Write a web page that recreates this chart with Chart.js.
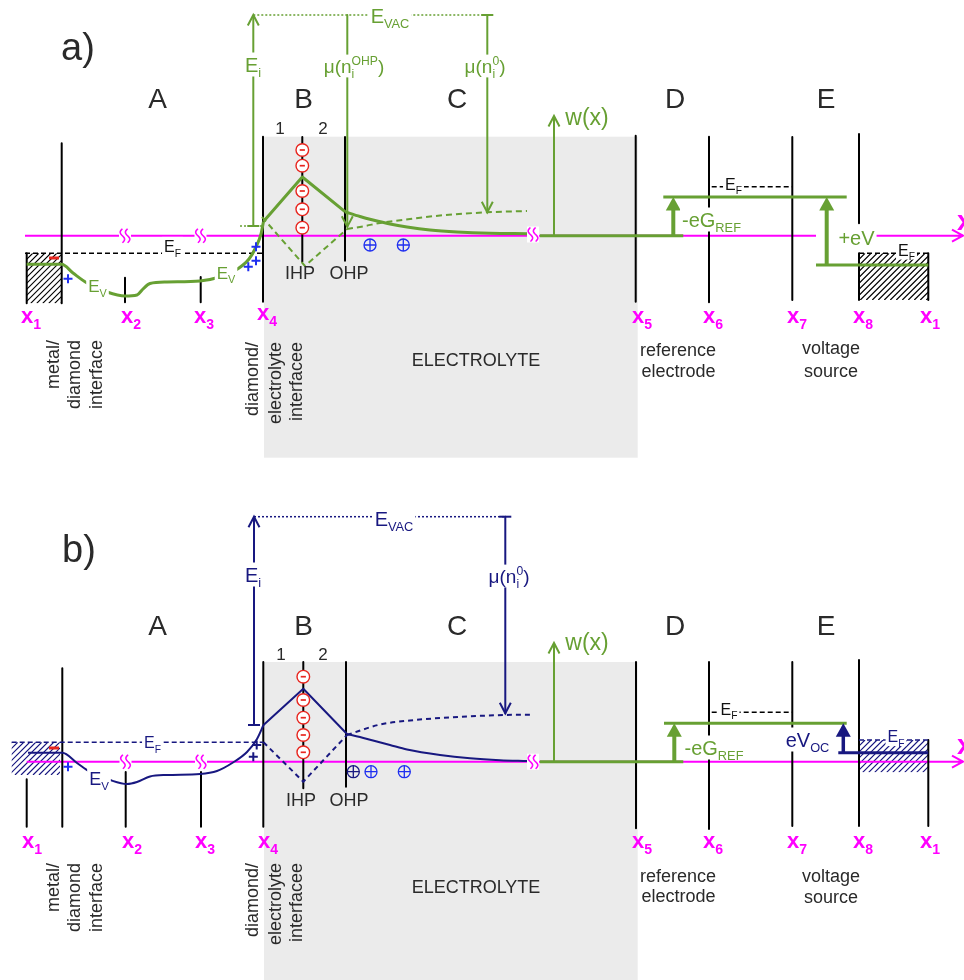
<!DOCTYPE html>
<html>
<head>
<meta charset="utf-8">
<title>Band diagram</title>
<script src="https://cdn.jsdelivr.net/npm/chart.js@4.4.1/dist/chart.umd.min.js"></script>
<style>
html,body{margin:0;padding:0;background:#ffffff;}
#wrap{width:964px;height:980px;}
canvas{display:block;}
</style>
</head>
<body>
<div id="wrap"><canvas id="chart" width="964" height="980"></canvas></div>
<script>
const GREEN='#67a033', NAVY='#181880', MAG='#ff00ff', DARK='#2a2a2a', RED='#e8261f', BLUE='#1f2ff0', GRAY='#ebebeb', BLACK='#000000';
const FONT="'Liberation Sans', Arial, Helvetica, sans-serif";

// ================= PANEL a data =================
const axisA1=[[25,235.7],[816,235.7]];
const axisA2=[[875,235.7],[960,235.7]];
const wallsA=[[26.7,253.3,303.3],[61.7,143.3,303.3],[125,277.7,302.3],[200.7,277,302.3],[263,136.7,301.7],[302.3,137,261.7],[345,137,260.7],[635.7,135.7,301.7],[709,136.7,302.3],[792.3,137,300],[859,134,223.3],[859,253.3,300],[928.3,253.3,300]];
const valenceA=[[26.7,264.3],[61.7,264.3],[73,273],[87,283],[107,292],[125,296],[137,295],[143,289],[150,283.5],[167,282],[200,281],[218,277.5],[236,270],[249,259],[256,247],[261,234],[263.5,221.5]];
const dlSolidA=[[263.5,221.5],[302.3,177],[345,211.7]];
const diffuseSolidA=[[345,211.7],[360,216.5],[373,220],[390,224],[407,227],[430,230],[457,232],[490,233.3],[527,233.7]];
const dlDashA=[[262,217],[305,266],[347,229]];
const diffuseDashA=[[347,229],[365,226],[380,223],[410,219],[440,215.5],[487,212.3],[527,211]];
const fermiA=[[25,253.3],[263,253.3]];
const fermiRefA=[[711.7,186.7],[792,186.7]];
const fermiMetalA=[[859,253.3],[928.3,253.3]];
const vacA=[[253.3,15],[487.3,15]];
const eiFootA=[[240,226],[264,226]];
const wBaseA=[[540,235.7],[683.3,235.7]];
const refLevelA=[[663.3,197],[846.7,197]];
const metalLevelA=[[816,265],[928.3,265]];
const electrolyteA=[264,637.7,136.7,457.7];
const hatchA=[[26.7,61.7,253.3,303.3,BLACK],[859,928.3,253.3,300,BLACK]];
// arrows: x, from, tip, kind
const arrowsA=[[253.3,226,15,'gOpen'],[347.3,15,226.7,'gOpen'],[487.3,15,212.3,'gOpen'],[554,235.7,116,'gOpen'],[673.3,235.7,197,'gFill'],[826.7,265,197,'gFill']];
const capsA=[[253.3,226,GREEN],[487.3,15,GREEN]];
const breaksA=[[125,235.7],[200.5,235.7],[533,234.5]];
const ionMinusA=[[302.3,150],[302.3,165.7],[302.3,191],[302.3,209.3],[302.3,227.7]];
const ionPlusA=[[370,245,BLUE],[403.3,245,BLUE]];
const plusA=[[68,278.7,BLUE],[256,246.7,BLUE],[256,260.7,BLUE],[248.3,266.7,BLUE]];
const minusA=[[54,258]];
const labelsA=[
 ['a)',78,46,'panel'],
 ['A',157.5,98,'region'],['B',303.5,98,'region'],['C',457,98,'region'],['D',675,98,'region'],['E',826,98,'region'],
 ['1',280,128,'num'],['2',323,128,'num'],
 ['E_{i}',253,64.5,'gLbl'],['E_{VAC}',390,15.5,'gLbl'],['μ(n_{i}^{OHP})',354,66,'gMu'],['μ(n_{i}^{0})',485,66,'gMu'],
 ['w(x)',587,116.7,'wx'],
 ['E_{F}',172.5,246.5,'kEF'],['E_{V}',97.5,286,'gEV'],['E_{V}',226,272.5,'gEV'],
 ['IHP',300,273,'plane'],['OHP',349,273,'plane'],
 ['-eG_{REF}',711.5,219.5,'gLbl'],['+eV',856.5,237.5,'gLbl'],
 ['E_{F}',733.5,184,'kEF'],['E_{F}',906.5,250,'kEF'],
 ['ELECTROLYTE',476,360,'body'],['reference',678,349.5,'body'],['electrode',678.5,370.5,'body'],['voltage',831,348,'body'],['source',831,370.5,'body'],
 ['x',957,219.5,'xEdge']
];
const xTicksA=[['x_{1}',21,315],['x_{2}',121,315],['x_{3}',194,315],['x_{4}',257,312],['x_{5}',632,315],['x_{6}',703,315],['x_{7}',787,315],['x_{8}',853,315],['x_{1}',920,315]];
const rotLabelsA=[['metal/',54,340],['diamond',75,340],['interface',97,340],['diamond/',253,342],['electrolyte',276,342],['interfacee',297,342]];

// ================= PANEL b data =================
const axisB=[[26.7,761.7],[960,761.7]];
const wallsB=[[26.7,779.3,826.7],[62.3,668.3,826.7],[125.7,772,826.7],[201,772,826.7],[263.3,662,826.7],[303.3,662,788.3],[346,662,786.7],[636,662,828.3],[709,662,829],[792.3,662,826],[859,660,826],[928.3,740,826]];
const valenceB=[[28,752.7],[62.3,752.7],[77,763],[90,772],[110,780],[127,784],[137,782],[150,776.5],[167,775],[200,774],[217,771],[233,762.5],[247,752],[257,739],[263.5,725]];
const dlSolidB=[[263.5,725],[303.3,688.7],[347,734]];
const diffuseSolidB=[[347,734],[360,737],[373,740.5],[390,745],[407,749.5],[440,755],[470,758.3],[500,760.2],[527,761]];
const dlDashB=[[263.5,742.3],[303.3,781.7],[347,735]];
const diffuseDashB=[[347,735],[380,724.5],[410,720.5],[440,718],[470,716.3],[505,715],[530,714.7]];
const fermiB=[[11.7,742.3],[263.5,742.3]];
const fermiRefB=[[711.7,712.3],[792,712.3]];
const fermiMetalB=[[859,740],[928.3,740]];
const vacB=[[254,516.7],[505.3,516.7]];
const wBaseB=[[540,761.7],[683.3,761.7]];
const refLevelB=[[664,723.3],[846.7,723.3]];
const metalLevelB=[[838.3,752.7],[928.3,752.7]];
const electrolyteB=[264,637.7,662,980];
const hatchB=[[11.7,60,742.3,775,NAVY],[859,928.3,740,772.3,NAVY]];
const arrowsB=[[254,725,516.7,'nOpen'],[505.3,516.7,713.3,'nOpen'],[554,761.7,643,'gOpen'],[674.3,761.7,723.3,'gFill'],[843.3,752.7,723.3,'nFill']];
const capsB=[[254,725,NAVY],[505.3,516.7,NAVY]];
const breaksB=[[125.5,761.7],[201,761.7],[533,761.7]];
const ionMinusB=[[303.3,676.7],[303.3,700],[303.3,717.7],[303.3,735],[303.3,752.3]];
const ionPlusB=[[353.3,771.7,NAVY],[371,771.7,BLUE],[404.3,771.7,BLUE]];
const plusB=[[68,766.7,BLUE],[256.7,745,NAVY],[253.3,756.7,NAVY]];
const minusB=[[54,748]];
const labelsB=[
 ['b)',79,548,'panel'],
 ['A',157.5,625,'region'],['B',303.5,625,'region'],['C',457,625,'region'],['D',675,625,'region'],['E',826,625,'region'],
 ['1',281,654,'num'],['2',323,654,'num'],
 ['E_{i}',253,574.5,'nLbl'],['E_{VAC}',394,518.5,'nLbl'],['μ(n_{i}^{0})',509,576,'nMu'],
 ['w(x)',587,641.7,'wx'],
 ['E_{F}',152.5,742.5,'nEF'],['E_{V}',99,778.5,'nEV'],
 ['IHP',301,800,'plane'],['OHP',349,800,'plane'],
 ['-eG_{REF}',714,747.5,'gLbl'],['eV_{OC}',807.5,739.5,'nLbl'],
 ['E_{F}',729,709,'kEF'],['E_{F}',896,736.5,'nEF'],
 ['ELECTROLYTE',476,886.5,'body'],['reference',678,875.5,'body'],['electrode',678.5,895.5,'body'],['voltage',831,875.5,'body'],['source',831,896.5,'body'],
 ['x',957,744,'xEdge']
];
const xTicksB=[['x_{1}',22,840],['x_{2}',122,840],['x_{3}',195,840],['x_{4}',258,840],['x_{5}',632,840],['x_{6}',703,840],['x_{7}',787,840],['x_{8}',853,840],['x_{1}',920,840]];
const rotLabelsB=[['metal/',54,863],['diamond',75,863],['interface',97,863],['diamond/',253,863],['electrolyte',276,863],['interfacee',297,863]];

// ================= styles =================
const LS={
 axis:{borderColor:MAG,borderWidth:2},
 wall:{borderColor:BLACK,borderWidth:2},
 kDash:{borderColor:BLACK,borderWidth:1.5,borderDash:[5,3]},
 nDashThin:{borderColor:NAVY,borderWidth:1.5,borderDash:[5,3]},
 gDot:{borderColor:GREEN,borderWidth:1.5,borderDash:[2,2]},
 nDot:{borderColor:NAVY,borderWidth:1.5,borderDash:[2,2]},
 gCurve:{borderColor:GREEN,borderWidth:3,cubicInterpolationMode:'monotone'},
 gLine:{borderColor:GREEN,borderWidth:3},
 gDash:{borderColor:GREEN,borderWidth:2,borderDash:[6,4]},
 gDashCurve:{borderColor:GREEN,borderWidth:2,borderDash:[6,4],cubicInterpolationMode:'monotone'},
 nCurve:{borderColor:NAVY,borderWidth:2,cubicInterpolationMode:'monotone'},
 nLine:{borderColor:NAVY,borderWidth:2},
 nLevel:{borderColor:NAVY,borderWidth:3},
 nDash:{borderColor:NAVY,borderWidth:2,borderDash:[5,4]},
 nDashCurve:{borderColor:NAVY,borderWidth:2,borderDash:[5,4],cubicInterpolationMode:'monotone'}
};
const AK={
 gOpen:{color:GREEN,width:2,fill:false},
 nOpen:{color:NAVY,width:2,fill:false},
 gFill:{color:GREEN,width:4,fill:true},
 nFill:{color:NAVY,width:3.5,fill:true}
};
const TS={
 panel:{size:38,color:DARK},
 region:{size:28,color:DARK},
 num:{size:17,color:DARK},
 plane:{size:18,color:DARK},
 body:{size:18,color:DARK},
 gLbl:{size:20,color:GREEN,bg:'#ffffff'},
 gMu:{size:19,color:GREEN,bg:'#ffffff'},
 gEV:{size:17,color:GREEN,bg:'#ffffff'},
 wx:{size:23,color:GREEN},
 kEF:{size:16,color:'#111111',bg:'#ffffff'},
 nLbl:{size:20,color:NAVY,bg:'#ffffff'},
 nMu:{size:19,color:NAVY,bg:'#ffffff'},
 nEV:{size:18,color:NAVY,bg:'#ffffff'},
 nEF:{size:16,color:NAVY,bg:'#ffffff'},
 xTick:{size:22,color:MAG,bold:true,align:'left'},
 xEdge:{size:28,color:MAG,bold:true,align:'left'},
 rot:{size:18,color:DARK}
};

// ================= datasets =================
const datasets=[];
function addLine(points,style){
  datasets.push(Object.assign({data:points.map(p=>({x:p[0],y:p[1]})),showLine:true,pointRadius:0,pointHoverRadius:0,fill:false,tension:0,borderCapStyle:'butt',borderJoinStyle:'round'},style));
}
addLine(axisA1,LS.axis); addLine(axisA2,LS.axis); addLine(axisB,LS.axis);
wallsA.concat(wallsB).forEach(w=>addLine([[w[0],w[1]],[w[0],w[2]]],LS.wall));
addLine(fermiA,LS.kDash); addLine(fermiRefA,LS.kDash); addLine(fermiMetalA,LS.kDash);
addLine(fermiB,LS.nDashThin); addLine(fermiRefB,LS.kDash); addLine(fermiMetalB,LS.nDashThin);
addLine(vacA,LS.gDot); addLine(eiFootA,LS.gDot); addLine(vacB,LS.nDot);
addLine(dlDashA,LS.gDash); addLine(diffuseDashA,LS.gDashCurve);
addLine(dlDashB,LS.nDash); addLine(diffuseDashB,LS.nDashCurve);
addLine(valenceA,LS.gCurve); addLine(dlSolidA,LS.gLine); addLine(diffuseSolidA,LS.gCurve);
addLine(valenceB,LS.nCurve); addLine(dlSolidB,LS.nLine); addLine(diffuseSolidB,LS.nCurve);
addLine(wBaseA,LS.gLine); addLine(refLevelA,LS.gLine); addLine(metalLevelA,LS.gLine);
addLine(wBaseB,LS.gLine); addLine(refLevelB,LS.gLine); addLine(metalLevelB,LS.nLevel);
arrowsA.concat(arrowsB).forEach(a=>{
  const k=AK[a[3]]; const dir=Math.sign(a[1]-a[2]);
  const end=k.fill? a[2]+dir*12 : a[2];
  addLine([[a[0],a[1]],[a[0],end]],{borderColor:k.color,borderWidth:k.width});
});
// first pushed = drawn first (bottom)
datasets.forEach((d,i)=>{d.order=datasets.length-i;});

// ================= drawing helpers =================
function parseRich(s){
  const segs=[]; let buf=''; let i=0;
  while(i<s.length){
    const ch=s[i];
    if((ch==='_'||ch==='^')&&s[i+1]==='{'){
      if(buf){segs.push({n:buf});buf='';}
      const j=s.indexOf('}',i); const t=s.slice(i+2,j);
      const last=segs[segs.length-1];
      if(ch==='^'&&last&&last.sub!==undefined&&last.sup===undefined) last.sup=t;
      else if(ch==='_') segs.push({sub:t}); else segs.push({sup:t});
      i=j+1;
    } else {buf+=ch;i++;}
  }
  if(buf) segs.push({n:buf});
  return segs;
}
function drawRich(ctx,str,cx,cy,st){
  const size=st.size, small=size*0.64, w8=st.bold?'bold ':'';
  const f=sz=>w8+sz+'px '+FONT;
  const segs=parseRich(str); const ws=[]; let tot=0;
  segs.forEach(g=>{ let w;
    if(g.n!==undefined){ctx.font=f(size); w=ctx.measureText(g.n).width;}
    else{ctx.font=f(small); w=Math.max(g.sub!==undefined?ctx.measureText(g.sub).width:0,g.sup!==undefined?ctx.measureText(g.sup).width:0);}
    ws.push(w); tot+=w; });
  const align=st.align||'center';
  let x=align==='left'?cx:align==='right'?cx-tot:cx-tot/2;
  const base=cy+size*0.36;
  if(st.bg){ctx.fillStyle=st.bg; ctx.fillRect(x-2,cy-size*0.6,tot+4,size*1.2);}
  ctx.fillStyle=st.color; ctx.textAlign='left'; ctx.textBaseline='alphabetic';
  segs.forEach((g,k)=>{
    if(g.n!==undefined){ctx.font=f(size); ctx.fillText(g.n,x,base);}
    else{ctx.font=f(small); if(g.sub!==undefined) ctx.fillText(g.sub,x,base+size*0.28); if(g.sup!==undefined) ctx.fillText(g.sup,x,base-size*0.42);}
    x+=ws[k];
  });
}
function hatch(ctx,x0,x1,y0,y1,color){
  ctx.save(); ctx.beginPath(); ctx.rect(x0,y0,x1-x0,y1-y0); ctx.clip();
  ctx.strokeStyle=color; ctx.lineWidth=1.2; ctx.beginPath();
  const h=y1-y0;
  for(let s=x0-h; s<x1+h; s+=6){ctx.moveTo(s,y1); ctx.lineTo(s+h,y0);}
  ctx.stroke(); ctx.restore();
}
function brk(ctx,cx,cy){
  ctx.fillStyle='#ffffff'; ctx.fillRect(cx-6,cy-8,12,16);
  ctx.strokeStyle=MAG; ctx.lineWidth=1.6;
  [-2.6,2.6].forEach(dx=>{ctx.beginPath();
    for(let t=-7;t<=7.01;t+=0.5){const px=cx+dx+2.2*Math.sin(Math.PI*t/7), py=cy+t; if(t===-7) ctx.moveTo(px,py); else ctx.lineTo(px,py);}
    ctx.stroke();});
}

const decor={
  id:'decor',
  beforeDatasetsDraw(chart){
    const c=chart.ctx, X=v=>chart.scales.x.getPixelForValue(v), Y=v=>chart.scales.y.getPixelForValue(v);
    c.save();
    [electrolyteA,electrolyteB].forEach(r=>{c.fillStyle=GRAY; c.fillRect(X(r[0]),Y(r[2]),X(r[1])-X(r[0]),Y(r[3])-Y(r[2]));});
    hatchA.concat(hatchB).forEach(h=>hatch(c,X(h[0]),X(h[1]),Y(h[2]),Y(h[3]),h[4]));
    c.restore();
  },
  afterDatasetsDraw(chart){
    const c=chart.ctx, X=v=>chart.scales.x.getPixelForValue(v), Y=v=>chart.scales.y.getPixelForValue(v);
    c.save();
    // arrow heads
    arrowsA.concat(arrowsB).forEach(a=>{
      const k=AK[a[3]], x=X(a[0]), tip=Y(a[2]), dir=Math.sign(Y(a[1])-tip);
      c.strokeStyle=k.color; c.fillStyle=k.color;
      if(k.fill){c.beginPath(); c.moveTo(x,tip); c.lineTo(x-7.5,tip+dir*13.5); c.lineTo(x+7.5,tip+dir*13.5); c.closePath(); c.fill();}
      else{c.lineWidth=2; c.beginPath(); c.moveTo(x-5.5,tip+dir*10.5); c.lineTo(x,tip); c.lineTo(x+5.5,tip+dir*10.5); c.stroke();}
    });
    // axis heads
    [axisA2,axisB].forEach(ax=>{
      const tx=X(ax[1][0])+3, ty=Y(ax[1][1]);
      c.strokeStyle=MAG; c.lineWidth=2; c.beginPath(); c.moveTo(tx-11,ty-6); c.lineTo(tx,ty); c.lineTo(tx-11,ty+6); c.stroke();
      c.beginPath(); c.moveTo(X(ax[1][0])-2,ty); c.lineTo(tx,ty); c.stroke();
    });
    // caps
    capsA.concat(capsB).forEach(p=>{c.strokeStyle=p[2]; c.lineWidth=2; c.beginPath(); c.moveTo(X(p[0])-6,Y(p[1])); c.lineTo(X(p[0])+6,Y(p[1])); c.stroke();});
    // breaks
    breaksA.concat(breaksB).forEach(b=>brk(c,X(b[0]),Y(b[1])));
    // ions
    ionMinusA.concat(ionMinusB).forEach(p=>{const x=X(p[0]),y=Y(p[1]);
      c.beginPath(); c.arc(x,y,6.3,0,2*Math.PI); c.fillStyle='#ffffff'; c.fill(); c.lineWidth=1.4; c.strokeStyle=RED; c.stroke();
      c.beginPath(); c.moveTo(x-2.6,y); c.lineTo(x+2.6,y); c.lineWidth=1.7; c.stroke();});
    ionPlusA.concat(ionPlusB).forEach(p=>{const x=X(p[0]),y=Y(p[1]);
      c.strokeStyle=p[2]; c.lineWidth=1.3; c.beginPath(); c.arc(x,y,6,0,2*Math.PI); c.stroke();
      c.beginPath(); c.moveTo(x-6,y); c.lineTo(x+6,y); c.moveTo(x,y-6); c.lineTo(x,y+6); c.stroke();});
    plusA.concat(plusB).forEach(p=>{const x=X(p[0]),y=Y(p[1]);
      c.strokeStyle=p[2]; c.lineWidth=2; c.beginPath(); c.moveTo(x-4.5,y); c.lineTo(x+4.5,y); c.moveTo(x,y-4.5); c.lineTo(x,y+4.5); c.stroke();});
    minusA.concat(minusB).forEach(p=>{c.fillStyle=RED; c.fillRect(X(p[0])-5,Y(p[1])-1.5,10,3);});
    // labels
    labelsA.concat(labelsB).forEach(l=>drawRich(c,l[0],X(l[1]),Y(l[2]),TS[l[3]]));
    xTicksA.concat(xTicksB).forEach(l=>drawRich(c,l[0],X(l[1]),Y(l[2]),TS.xTick));
    rotLabelsA.concat(rotLabelsB).forEach(l=>{
      c.save(); c.translate(X(l[1]),Y(l[2])); c.rotate(-Math.PI/2);
      c.font=TS.rot.size+'px '+FONT; c.fillStyle=TS.rot.color; c.textAlign='right'; c.textBaseline='middle';
      c.fillText(l[0],0,0); c.restore();
    });
    c.restore();
  }
};

new Chart(document.getElementById('chart').getContext('2d'),{
  type:'scatter',
  data:{datasets:datasets},
  options:{
    responsive:false, animation:false, devicePixelRatio:1, events:[],
    layout:{padding:0},
    plugins:{legend:{display:false},tooltip:{enabled:false},title:{display:false}},
    scales:{
      x:{type:'linear',min:0,max:964,display:false},
      y:{type:'linear',min:0,max:980,reverse:true,display:false}
    }
  },
  plugins:[decor]
});
</script>
</body>
</html>
